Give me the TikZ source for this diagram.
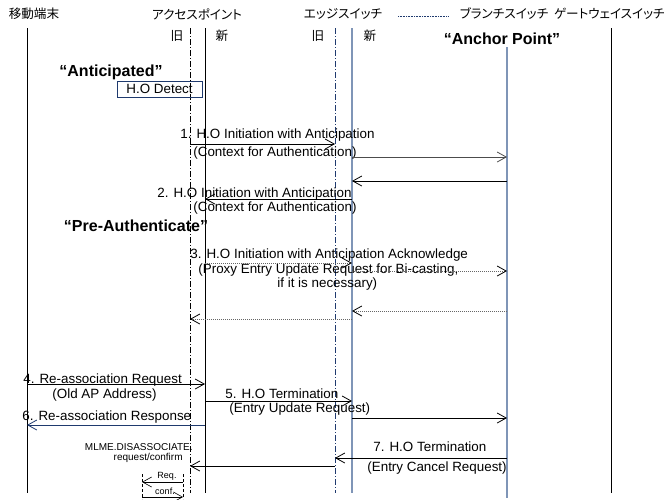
\documentclass[tikz,border=0pt]{standalone}
\usepackage{fontspec}
\setmainfont{Liberation Sans}
\newfontfamily\jpfont[RawFeature=+palt]{Noto Sans CJK JP}
\usepackage{tikz}
\usetikzlibrary{arrows.meta,calc}
\definecolor{swblue}{HTML}{7F95B7}
\definecolor{navy}{HTML}{1F3A6E}

\begin{document}
\begin{tikzpicture}[
    x=1pt, y=-1pt,
    >={Straight Barb[length=9pt,width=10pt]},
    line width=0.8pt,
    every node/.style={inner sep=0pt, font=\fontsize{13.4}{15}\selectfont},
    head/.style={font=\jpfont\fontsize{12.6}{15}\selectfont},
    txt/.style={anchor=west},
    small/.style={font=\fontsize{10}{11}\selectfont},
    tiny/.style={font=\fontsize{9}{10}\selectfont},
    phase/.style={font=\bfseries\fontsize{16}{18}\selectfont},
    oldline/.style={dash pattern=on 6pt off 2pt on 1pt off 2pt},
    swline/.style={draw=swblue, line width=1.5pt},
    msg/.style={->},
    dotmsg/.style={-{Straight Barb[length=9pt,width=10pt,color=black]}, draw=black!60, dash pattern=on 1pt off 1pt}
]
  \useasboundingbox (0,0) rectangle (667,499);

  % headers
  \node[head] (ms) at (34,14) {移動端末};
  \node[head] (ap) at (197,14) {アクセスポイント};
  \node[head] (es) at (343,14) {エッジスイッチ};
  \node[head] (bs) at (504,14) {ブランチスイッチ};
  \node[head, anchor=east] (gw) at (665,14) {ゲートウェイスイッチ};
  \node[head] (apo-l) at (177,36) {旧};
  \node[head] (apn-l) at (222,36) {新};
  \node[head] (edo-l) at (318,36) {旧};
  \node[head] (edn-l) at (370,36) {新};
  \node[phase] (anchor) at (502,39) {“Anchor Point”};
  \coordinate (lg1) at (398,16);
  \coordinate (lg2) at (448,16);
  \draw[navy, line width=0.6pt, dash pattern=on 1pt off 0.6pt] (lg1) -- (lg2);

  % lifelines
  \coordinate (ms-t) at (27,28);   \coordinate (ms-b) at (27,493);
  \coordinate (apo-t) at (190,28); \coordinate (apo-b) at (190,493);
  \coordinate (apn-t) at (205,28); \coordinate (apn-b) at (205,493);
  \coordinate (edo-t) at (335,28); \coordinate (edo-b) at (335,493);
  \coordinate (edn-t) at (352,28); \coordinate (edn-b) at (352,493);
  \coordinate (br-t) at (507,47);  \coordinate (br-b) at (507,498);
  \coordinate (gw-t) at (611,28);  \coordinate (gw-b) at (611,493);
  \draw (ms-t) -- (ms-b);
  \draw[oldline] (apo-t) -- (apo-b);
  \draw (apn-t) -- (apn-b);
  \draw[oldline, navy] (edo-t) -- (edo-b);
  \draw[swline] (edn-t) -- (edn-b);
  \draw[swline] (br-t) -- (br-b);
  \draw (gw-t) -- (gw-b);

  % phases
  \node[phase] (antic) at (111,72) {“Anticipated”};
  \node[draw=navy, minimum width=85pt, minimum height=16pt] (detect) at (159.5,89) {H.O Detect};
  \node[phase] (preauth) at (136,226) {“Pre-Authenticate”};

  % message rows
  \coordinate (r1) at (0,144);  \coordinate (r1b) at (0,157);
  \coordinate (r1c) at (0,181); \coordinate (r2) at (0,199);
  \coordinate (r3) at (0,263);  \coordinate (r3b) at (0,271);
  \coordinate (r3c) at (0,311); \coordinate (r3d) at (0,319);
  \coordinate (r4) at (0,384);  \coordinate (r5) at (0,401);
  \coordinate (r5b) at (0,418); \coordinate (r6) at (0,425);
  \coordinate (r7) at (0,458);  \coordinate (r7b) at (0,466);

  % labels
  \node[txt] (t1a) at (180,135) {1. H.O Initiation with Anticipation};
  \node[txt] (t1b) at (193,153) {(Context for Authentication)};
  \node[txt] (t2a) at (157,194) {2. H.O Initiation with Anticipation};
  \node[txt] (t2b) at (193,208) {(Context for Authentication)};
  \node[txt] (t3a) at (190,255) {3. H.O Initiation with Anticipation Acknowledge};
  \node[txt] (t3b) at (198,270) {(Proxy Entry Update Request for Bi-casting,};
  \node[txt] (t3c) at (277,284) {if it is necessary)};
  \node[txt] (t4a) at (23,380) {4. Re-association Request};
  \node[txt] (t4b) at (52,395) {(Old AP Address)};
  \node[txt] (t5a) at (225,394) {5. H.O Termination};
  \node[txt] (t5b) at (229,409) {(Entry Update Request)};
  \node[txt] (t6) at (22,417) {6. Re-association Response};
  \node[txt] (t7a) at (373,447) {7. H.O Termination};
  \node[txt] (t7b) at (367,468) {(Entry Cancel Request)};
  \node[small, anchor=east] (mlme) at (193,447) {MLME.DISASSOCIATE.};
  \node[small, anchor=east] (rqcf) at (183,458) {request/confirm};

  % messages
  \draw[msg] (apo-t |- r1) -- (edo-t |- r1);
  \draw[msg, draw=black!70] (edn-t |- r1b) -- (br-t |- r1b);
  \draw[msg] (br-t |- r1c) -- (edn-t |- r1c);
  \draw[msg] (edn-t |- r2) -- (apn-t |- r2);
  \draw[dotmsg] (apn-t |- r3) -- (edn-t |- r3);
  \draw[dotmsg] (edn-t |- r3b) -- (br-t |- r3b);
  \draw[dotmsg] (br-t |- r3c) -- (edn-t |- r3c);
  \draw[dotmsg] (edn-t |- r3d) -- (apo-t |- r3d);
  \draw[msg] (ms-t |- r4) -- (apn-t |- r4);
  \draw[msg] (apn-t |- r5) -- (edn-t |- r5);
  \draw[msg] (edn-t |- r5b) -- (br-t |- r5b);
  \draw[msg, navy] (apn-t |- r6) -- (ms-t |- r6);
  \draw[msg] (br-t |- r7) -- (edo-t |- r7);
  \draw[msg] (edo-t |- r7b) -- (apo-t |- r7b);

  % req / conf
  \coordinate (q1-t) at (142,474); \coordinate (q1-b) at (142,499);
  \coordinate (q2-t) at (183,474); \coordinate (q2-b) at (183,499);
  \draw[line width=0.6pt, densely dashed] (q1-t) -- (q1-b);
  \draw[line width=0.6pt, densely dashed] (q2-t) -- (q2-b);
  \node[tiny] (req) at (167,476) {Req.};
  \node[tiny] (conf) at (165,491) {conf.};
  \draw[msg, line width=0.6pt] (q2-t |- 0,482) -- (q1-t |- 0,482);
  \draw[msg, line width=0.6pt] (q1-t |- 0,497) -- (q2-t |- 0,497);
\end{tikzpicture}
\end{document}
